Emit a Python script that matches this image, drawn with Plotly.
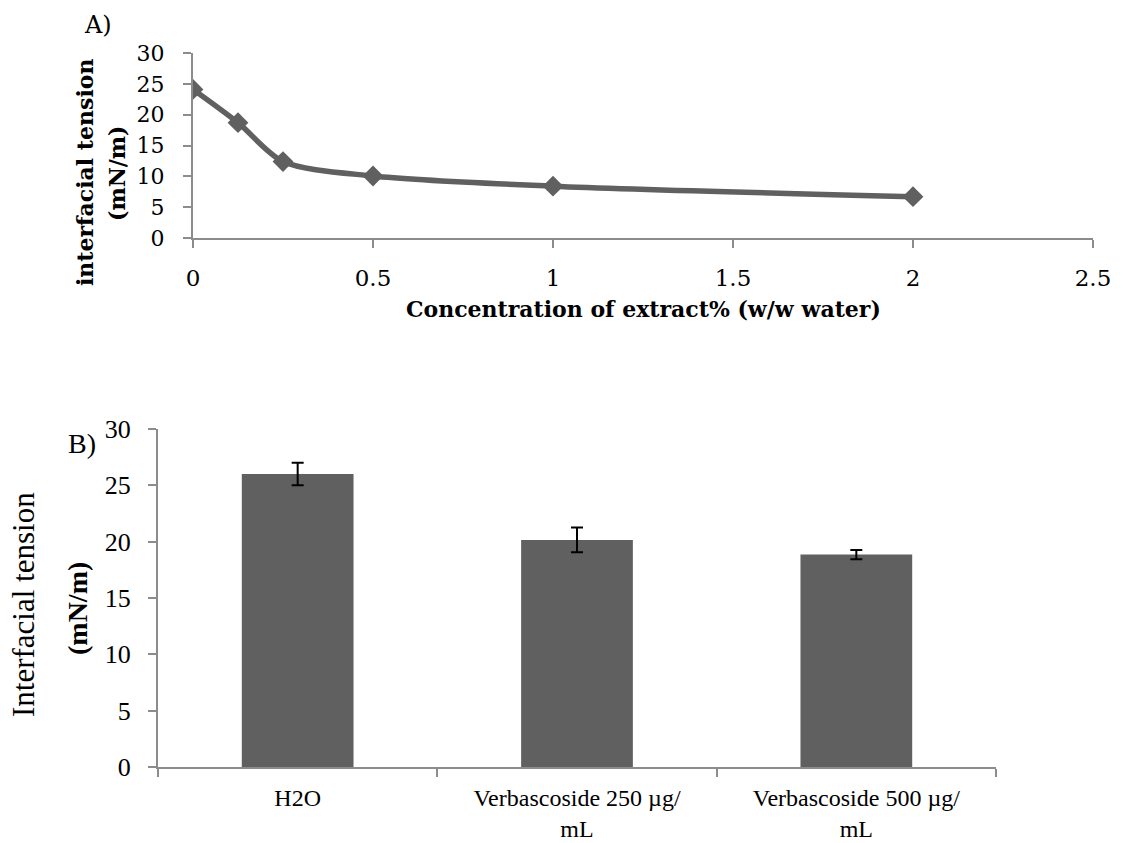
import plotly.graph_objects as go

# Panel A data
conc = [0, 0.125, 0.25, 0.5, 1, 2]
tension_a = [24.1, 18.7, 12.4, 10.05, 8.4, 6.7]

# Panel B data
categories = ["H2O", "Verbascoside 250 µg/<br>mL", "Verbascoside 500 µg/<br>mL"]
tension_b = [26.0, 20.15, 18.85]
err_b = [1.0, 1.1, 0.4]

W, H = 1123, 843
def px(x): return x / W
def py(y): return 1 - y / H

GRAY = "#606060"
AX = "#8c8c8c"
FA = "DejaVu Serif"
FB = "Liberation Serif"

fig = go.Figure()
fig.add_trace(go.Scatter(
    x=conc, y=tension_a, mode="lines+markers",
    line=dict(color=GRAY, width=5.5, shape="spline", smoothing=0.8),
    marker=dict(symbol="diamond", size=16, color=GRAY),
    xaxis="x", yaxis="y", showlegend=False))

fig.add_trace(go.Bar(
    x=categories, y=tension_b, width=0.4, marker=dict(color=GRAY, line=dict(width=0)),
    error_y=dict(type="data", array=err_b, color="black", thickness=2, width=6),
    xaxis="x2", yaxis="y2", showlegend=False))

common = dict(showline=True, linecolor=AX, linewidth=2, ticks="outside",
              tickcolor=AX, tickwidth=2, ticklen=8, showgrid=False, zeroline=False,
              automargin=False)

fig.update_layout(
    width=W, height=H, margin=dict(l=0, r=0, t=0, b=0, autoexpand=False),
    paper_bgcolor="white", plot_bgcolor="white",
    xaxis=dict(domain=[px(193), px(1093)], range=[0, 2.5], dtick=0.5,
               tickfont=dict(family=FA, size=23, color="black"), anchor="y",
               ticklabelstandoff=10, **common),
    yaxis=dict(domain=[py(238), py(53)], range=[0, 30], dtick=5,
               tickfont=dict(family=FA, size=22, color="black"), anchor="x",
               ticklabelstandoff=14, **common),
    xaxis2=dict(domain=[px(158), px(996)], range=[-0.5, 2.5], type="category",
                tickson="boundaries",
                tickfont=dict(family=FB, size=24, color="black"), anchor="y2",
                ticklabelstandoff=8, **common),
    yaxis2=dict(domain=[py(767), py(429)], range=[0, 30], dtick=5,
                tickfont=dict(family=FB, size=26, color="black"), anchor="x2",
                ticklabelstandoff=12, **common),
)

ann = [
    dict(text="A)", x=px(98), y=py(25), font=dict(family=FA, size=24)),
    dict(text="B)", x=px(82), y=py(443), font=dict(family=FB, size=28)),
    dict(text="<b>interfacial tension</b>", x=px(85), y=py(173), textangle=-90,
         font=dict(family=FA, size=22)),
    dict(text="<b>(mN/m)</b>", x=px(117), y=py(173), textangle=-90,
         font=dict(family=FA, size=22)),
    dict(text="<b>Concentration of extract% (w/w water)</b>", x=px(643), y=py(309),
         font=dict(family=FA, size=22)),
    dict(text="Interfacial tension", x=px(23), y=py(605), textangle=-90,
         font=dict(family=FB, size=31)),
    dict(text="<b>(mN/m)</b>", x=px(77), y=py(609), textangle=-90,
         font=dict(family=FB, size=28)),
]
for a in ann:
    a.update(xref="paper", yref="paper", showarrow=False, xanchor="center", yanchor="middle")
    a["font"]["color"] = "black"
fig.update_layout(annotations=ann)

fig.write_html("out.html")
